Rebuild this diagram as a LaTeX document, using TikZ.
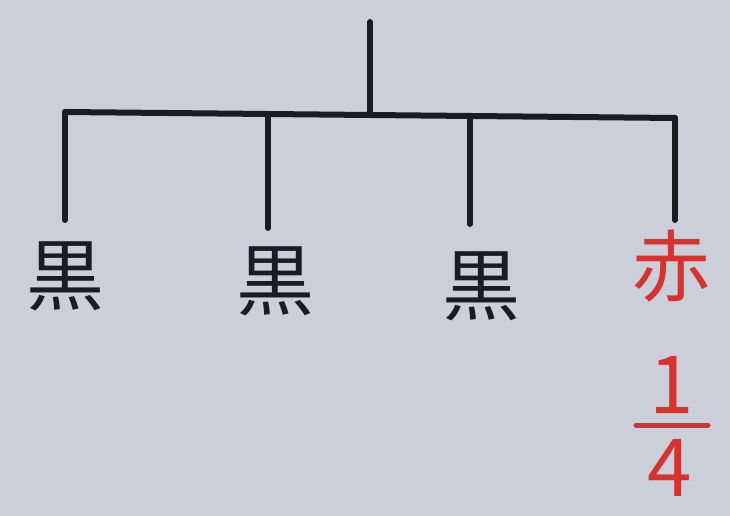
\documentclass[tikz,border=0pt]{standalone}
\usepackage{fontspec}
\newfontfamily\cjk{Noto Sans CJK JP}
\definecolor{paper}{RGB}{203,207,217}
\definecolor{ink}{RGB}{25,28,32}
\definecolor{redink}{RGB}{215,50,45}
\begin{document}
\begin{tikzpicture}[x=1pt,y=-1pt,
  wire/.style={draw=ink,line width=6pt,line cap=round,line join=round},
  kanji/.style={font=\cjk\fontsize{78}{80}\selectfont,inner sep=0pt,text=ink},
  redtext/.style={font=\cjk\fontsize{78}{80}\selectfont,inner sep=0pt,text=redink},
  digit/.style={font=\cjk\fontsize{80}{80}\selectfont,inner sep=0pt,text=redink}]
\fill[paper] (0,0) rectangle (730,516);
\useasboundingbox (0,0) rectangle (730,516);
% trunk and bus
\coordinate (top) at (370,22);
\coordinate (mid) at (370,113);
\coordinate (b1) at (65,112);
\coordinate (b2) at (268,116);
\coordinate (b3) at (470,117);
\coordinate (b4) at (675,118);
% labels
\node[kanji] (k1) at (65,276) {黒};
\node[kanji] (k2) at (275,281) {黒};
\node[kanji] (k3) at (481,286) {黒};
\node[redtext] (r4) at (671,266) {赤};
\node[digit] (one) at (672,385) {1};
\node[digit] (four) at (670,468) {4};
\coordinate (barL) at (636,425);
\coordinate (barR) at (708,425);
% lines
\draw[wire] (top) -- (mid);
\draw[wire] (b1) -- (b4);
\draw[wire] (b1) -- (65,220);
\draw[wire] (b2) -- (268,228);
\draw[wire] (b3) -- (470,224);
\draw[wire] (b4) -- (675,220);
\draw[draw=redink,line width=5pt,line cap=round] (barL) -- (barR);
\end{tikzpicture}
\end{document}
